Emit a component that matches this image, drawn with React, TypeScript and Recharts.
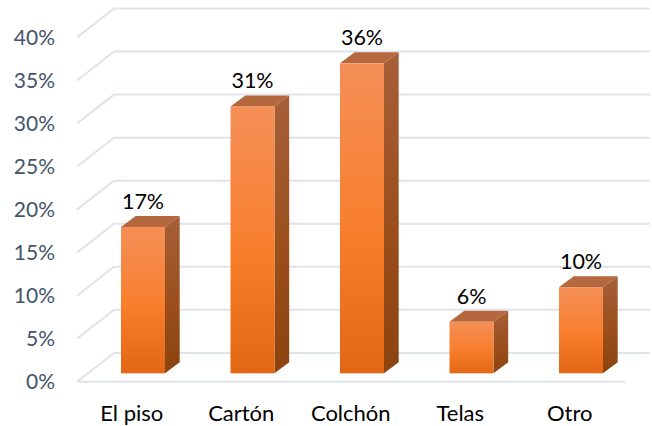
import { BarChart, Bar, XAxis, YAxis, CartesianGrid, LabelList } from 'recharts';

const categories = ['El piso', 'Cartón', 'Colchón', 'Telas', 'Otro'];
const shares = [17, 31, 36, 6, 10];
const percentTicks = [0, 5, 10, 15, 20, 25, 30, 35, 40];

const data = categories.map((name, i) => ({ name, share: shares[i] }));

const FONT = 'Lato, "Open Sans", sans-serif';
const GRID = '#DFE3EA';

// fake 3D offsets
const FRONT_DY = 8.5;
const BACK_DY = -20.4;
const DEPTH_X = 14.7;
const DEPTH_Y = -11;

function GridLine3D(props: any) {
  const { y1 } = props;
  return (
    <polyline
      points={`77,${y1 + FRONT_DY} 114,${y1 + BACK_DY} 650,${y1 + BACK_DY}`}
      fill="none"
      stroke={GRID}
      strokeWidth={2}
    />
  );
}

function FloorLine(props: any) {
  const { y1 } = props;
  if (y1 < 370) return <GridLine3D {...props} />;
  return (
    <g>
      <GridLine3D {...props} />
      <line x1={77} x2={625} y1={y1 + FRONT_DY} y2={y1 + FRONT_DY} stroke={GRID} strokeWidth={2} />
    </g>
  );
}

function Box3D(props: any) {
  const { x, y, width, height } = props;
  const r = x + width;
  const b = y + height;
  return (
    <g>
      <polygon
        points={`${x},${y} ${x + DEPTH_X},${y + DEPTH_Y} ${r + DEPTH_X},${y + DEPTH_Y} ${r},${y}`}
        fill="#B5673D"
      />
      <polygon
        points={`${r},${y} ${r + DEPTH_X},${y + DEPTH_Y} ${r + DEPTH_X},${b + DEPTH_Y} ${r},${b}`}
        fill="url(#sideFill)"
      />
      <rect x={x} y={y} width={width} height={height} fill="url(#frontFill)" />
    </g>
  );
}

function YTick(props: any) {
  const { y, payload } = props;
  return (
    <text
      x={55}
      y={y + FRONT_DY - 1}
      textAnchor="end"
      dominantBaseline="central"
      fontFamily={FONT}
      fontSize={21}
      fill="#44546A"
    >
      {payload.value}%
    </text>
  );
}

function XTick(props: any) {
  const { x, payload } = props;
  return (
    <text
      x={x - 11}
      y={412}
      textAnchor="middle"
      dominantBaseline="central"
      fontFamily={FONT}
      fontSize={22}
      fill="#000"
    >
      {payload.value}
    </text>
  );
}

function ValueLabel(props: any) {
  const { x, y, width, value } = props;
  return (
    <text
      x={x + width / 2}
      y={y - 26}
      textAnchor="middle"
      dominantBaseline="central"
      fontFamily={FONT}
      fontSize={21.5}
      fill="#000"
    >
      {value}%
    </text>
  );
}

export default function App() {
  return (
    <div style={{ position: 'absolute', left: 0, top: 0 }}>
      <BarChart
        width={652}
        height={426}
        data={data}
        margin={{ top: 28.9, right: 16.5, left: 0, bottom: 0 }}
      >
        <defs>
          <linearGradient id="frontFill" x1="0" y1="0" x2="0" y2="1">
            <stop offset="0%" stopColor="#F58F57" />
            <stop offset="55%" stopColor="#F87E2C" />
            <stop offset="100%" stopColor="#E26715" />
          </linearGradient>
          <linearGradient id="sideFill" x1="0" y1="0" x2="0" y2="1">
            <stop offset="0%" stopColor="#A65F38" />
            <stop offset="55%" stopColor="#9A4F1C" />
            <stop offset="100%" stopColor="#8C430F" />
          </linearGradient>
        </defs>
        <CartesianGrid vertical={false} horizontal={FloorLine} />
        <XAxis
          dataKey="name"
          height={52.7}
          axisLine={false}
          tickLine={false}
          tick={XTick}
          interval={0}
        />
        <YAxis
          domain={[0, 40]}
          ticks={percentTicks}
          width={88}
          axisLine={false}
          tickLine={false}
          tick={YTick}
          interval={0}
        />
        <Bar dataKey="share" barSize={44} shape={Box3D} isAnimationActive={false}>
          <LabelList dataKey="share" content={ValueLabel} />
        </Bar>
      </BarChart>
    </div>
  );
}
